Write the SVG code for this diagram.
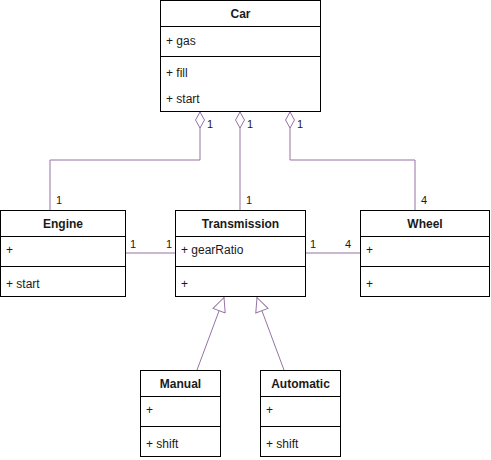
<svg xmlns="http://www.w3.org/2000/svg" width="491" height="460" viewBox="0 0 491 460">
<style>
.box{fill:#fff;stroke:#000;stroke-width:1}
.div{stroke:#000;stroke-width:1}
.t{font-family:"Liberation Sans",Arial,sans-serif;font-size:12px;fill:#1a1a1a}
.b{font-weight:bold;text-anchor:middle}
.c{fill:none;stroke:#9673a6;stroke-width:1}
.m{font-family:"Liberation Sans",Arial,sans-serif;font-size:11px;fill:#1a1a1a}
</style>
<defs>
<marker id="dia" viewBox="0 0 18 10" refX="17" refY="5" markerWidth="18" markerHeight="10" markerUnits="userSpaceOnUse" orient="auto">
<path d="M1 5 L9 0.5 L17 5 L9 9.5 Z" fill="#fff" stroke="#9673a6"/>
</marker>
<marker id="tri" viewBox="0 0 16 14" refX="15" refY="7" markerWidth="16" markerHeight="14" markerUnits="userSpaceOnUse" orient="auto">
<path d="M1 0.5 L15 7 L1 13.5 Z" fill="#fff" stroke="#9673a6"/>
</marker>
</defs>
<g id="connectors">
<path class="c" d="M50 210 V160 H200 V112" marker-end="url(#dia)"/>
<path class="c" d="M240 210 V112" marker-end="url(#dia)"/>
<path class="c" d="M415 210 V160 H290 V112" marker-end="url(#dia)"/>
<path class="c" d="M125.5 253 H175"/>
<path class="c" d="M305 253 H360"/>
<path class="c" d="M197 370 L224 297.5" marker-end="url(#tri)"/>
<path class="c" d="M284 370 L257 297.5" marker-end="url(#tri)"/>
<text class="m" x="207" y="128">1</text>
<text class="m" x="247" y="128">1</text>
<text class="m" x="297" y="128">1</text>
<text class="m" x="56" y="204">1</text>
<text class="m" x="246" y="204">1</text>
<text class="m" x="421" y="204">4</text>
<text class="m" x="130" y="248">1</text>
<text class="m" x="166" y="248">1</text>
<text class="m" x="310" y="248">1</text>
<text class="m" x="345" y="248">4</text>
</g>
<g id="car">
<rect class="box" x="160.5" y="0.5" width="160" height="111"/>
<line class="div" x1="160.5" y1="26.5" x2="320.5" y2="26.5"/>
<line class="div" x1="160.5" y1="56.5" x2="320.5" y2="56.5"/>
<text class="t b" x="240.5" y="18">Car</text>
<text class="t" x="166" y="45">+ gas</text>
<text class="t" x="166" y="77">+ fill</text>
<text class="t" x="166" y="103">+ start</text>
</g>
<g id="engine">
<rect class="box" x="0.5" y="210.5" width="125" height="86"/>
<line class="div" x1="0.5" y1="236.5" x2="125.5" y2="236.5"/>
<line class="div" x1="0.5" y1="266.5" x2="125.5" y2="266.5"/>
<text class="t b" x="63" y="228">Engine</text>
<text class="t" x="6" y="254">+</text>
<text class="t" x="6" y="288">+ start</text>
</g>
<g id="transmission">
<rect class="box" x="175.5" y="210.5" width="130" height="86"/>
<line class="div" x1="175.5" y1="236.5" x2="305.5" y2="236.5"/>
<line class="div" x1="175.5" y1="266.5" x2="305.5" y2="266.5"/>
<text class="t b" x="240.5" y="228">Transmission</text>
<text class="t" x="181" y="254">+ gearRatio</text>
<text class="t" x="181" y="288">+</text>
</g>
<g id="wheel">
<rect class="box" x="360.5" y="210.5" width="129" height="86"/>
<line class="div" x1="360.5" y1="236.5" x2="489.5" y2="236.5"/>
<line class="div" x1="360.5" y1="266.5" x2="489.5" y2="266.5"/>
<text class="t b" x="425" y="228">Wheel</text>
<text class="t" x="366" y="254">+</text>
<text class="t" x="366" y="288">+</text>
</g>
<g id="manual">
<rect class="box" x="140.5" y="370.5" width="80" height="86"/>
<line class="div" x1="140.5" y1="396.5" x2="220.5" y2="396.5"/>
<line class="div" x1="140.5" y1="426.5" x2="220.5" y2="426.5"/>
<text class="t b" x="180.5" y="388">Manual</text>
<text class="t" x="146" y="414">+</text>
<text class="t" x="146" y="448">+ shift</text>
</g>
<g id="automatic">
<rect class="box" x="260.5" y="370.5" width="80" height="86"/>
<line class="div" x1="260.5" y1="396.5" x2="340.5" y2="396.5"/>
<line class="div" x1="260.5" y1="426.5" x2="340.5" y2="426.5"/>
<text class="t b" x="300.5" y="388">Automatic</text>
<text class="t" x="266" y="414">+</text>
<text class="t" x="266" y="448">+ shift</text>
</g>
</svg>
